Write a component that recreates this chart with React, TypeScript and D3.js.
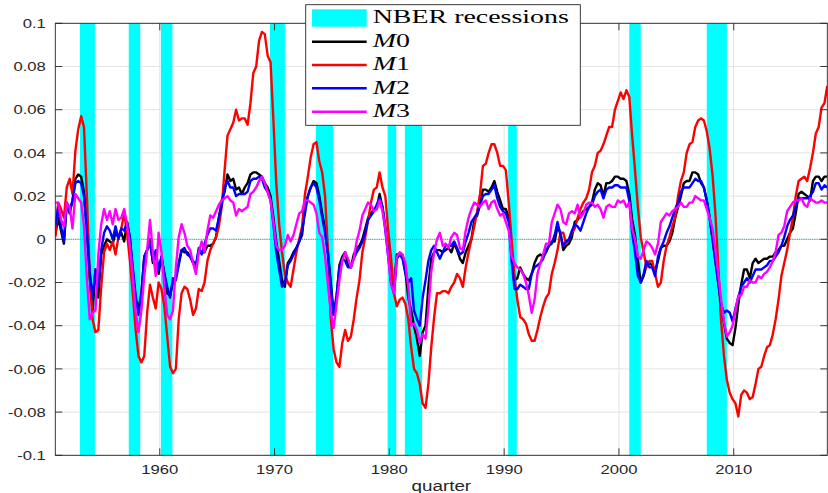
import React, { useEffect, useRef } from 'react';
import * as d3 from 'd3';

// first quarter shown on the axis (decimal year), data are quarterly
const START = 1950.9;

const m0 = [
  0.002, 0.010, 0.004, -0.002, 0.017, 0.012, 0.018, 0.028, 0.030, 0.029, 0.022, 0.005, -0.018, -0.033, -0.014, -0.027,
  -0.007, -0.003, 0.000, -0.001, -0.002, 0.003, 0.001, 0.003, -0.001, 0.008, 0.001, -0.015, -0.028, -0.032, -0.025, -0.008,
  -0.005, 0.000, -0.011, -0.007, -0.016, -0.008, -0.016, -0.025, -0.026, -0.020, -0.017, -0.011, -0.005, -0.006, -0.006, -0.008,
  -0.011, -0.013, -0.005, -0.006, -0.006, -0.003, -0.003, -0.002, 0.001, 0.010, 0.018, 0.022, 0.030, 0.027, 0.028, 0.023,
  0.024, 0.021, 0.024, 0.026, 0.030, 0.031, 0.031, 0.030, 0.029, 0.026, 0.024, 0.020, 0.010, -0.001, -0.010, -0.019,
  -0.022, -0.011, -0.009, -0.006, -0.004, -0.001, 0.002, 0.015, 0.020, 0.024, 0.027, 0.026, 0.020, 0.012, 0.005,
  -0.006, -0.020, -0.035, -0.027, -0.012, -0.008, -0.006, -0.012, -0.013, -0.007, -0.004, -0.003, 0.000, 0.005, 0.010, 0.012,
  0.014, 0.014, 0.021, 0.015, 0.006, -0.005, -0.016, -0.022, -0.007, -0.007, -0.008, -0.015, -0.027, -0.033, -0.040, -0.046,
  -0.054, -0.043, -0.040, -0.022, -0.009, -0.006, -0.005, -0.005, -0.006, -0.005, -0.004,
  -0.006, -0.002, -0.005, -0.009, -0.011, -0.006, -0.003, 0.000, 0.009, 0.011, 0.016, 0.023, 0.023, 0.022, 0.024, 0.027,
  0.022, 0.018, 0.014, 0.014, 0.010, -0.005, -0.019, -0.018, -0.013, -0.016, -0.018, -0.019, -0.016, -0.011, -0.008, -0.007,
  -0.008, -0.006, -0.003, -0.001, -0.001, 0.006, 0.003, -0.005, -0.003, -0.002, 0.001, 0.008, 0.009, 0.011, 0.013, 0.014, 0.015,
  0.017, 0.023, 0.026, 0.025, 0.020, 0.026, 0.026, 0.027, 0.029, 0.029, 0.028, 0.028, 0.027, 0.021, 0.009, 0.002,
  -0.010, -0.020, -0.017, -0.012, -0.011, -0.012, -0.015, -0.010, -0.004, -0.003, -0.003, -0.001, 0.003, 0.010, 0.015, 0.020,
  0.026, 0.027, 0.027,
  0.031, 0.031, 0.030, 0.026, 0.024, 0.018, 0.010, 0.000, -0.010, -0.020, -0.030, -0.039, -0.046, -0.048, -0.049, -0.041,
  -0.030, -0.021, -0.014, -0.014, -0.018, -0.011, -0.009, -0.011, -0.010, -0.009, -0.009, -0.008, -0.008, -0.006, -0.005, -0.003,
  -0.003, 0.000, 0.003, 0.005, 0.012, 0.021, 0.022, 0.021, 0.020, 0.018, 0.027, 0.029, 0.029, 0.027, 0.029, 0.029,
];

const m1 = [
  0.001, 0.017, 0.014, 0.010, 0.024, 0.028, 0.021, 0.041, 0.051, 0.057, 0.052, 0.020, -0.016, -0.037, -0.043, -0.042,
  -0.022, -0.006, -0.002, -0.005, -0.001, -0.007, 0.001, 0.005, 0.012, 0.003, -0.010, -0.025, -0.042, -0.054, -0.057, -0.054,
  -0.034, -0.021, -0.027, -0.032, -0.020, -0.023, -0.031, -0.045, -0.059, -0.062, -0.060, -0.037, -0.025, -0.022, -0.023, -0.028,
  -0.035, -0.032, -0.023, -0.024, -0.020, -0.010, -0.005, -0.002, 0.001, 0.006, 0.015, 0.032, 0.048, 0.051, 0.054, 0.060,
  0.055, 0.056, 0.056, 0.053, 0.063, 0.077, 0.080, 0.092, 0.096, 0.095, 0.085, 0.082, 0.055, 0.026, 0.007, -0.006,
  -0.016, -0.020, -0.022, -0.014, -0.006, 0.000, 0.006, 0.021, 0.029, 0.038, 0.044, 0.045, 0.036, 0.031, 0.020,
  -0.005, -0.037, -0.051, -0.057, -0.059, -0.048, -0.042, -0.047, -0.045, -0.037, -0.027, -0.019, -0.006, 0.001, 0.009, 0.017,
  0.023, 0.024, 0.031, 0.024, 0.020, 0.004, -0.009, -0.025, -0.031, -0.028, -0.027, -0.030, -0.037, -0.050, -0.060, -0.062,
  -0.067, -0.076, -0.078, -0.067, -0.050, -0.036, -0.025, -0.025, -0.024, -0.024, -0.025,
  -0.022, -0.020, -0.016, -0.018, -0.022, -0.013, -0.006, 0.000, 0.006, 0.013, 0.021, 0.034, 0.035, 0.040, 0.044, 0.044,
  0.040, 0.034, 0.034, 0.032, 0.017, 0.000, -0.017, -0.028, -0.036, -0.037, -0.039, -0.044, -0.047, -0.047, -0.042, -0.036,
  -0.031, -0.027, -0.025, -0.016, -0.011, -0.005, 0.003, 0.003, -0.002, 0.000, 0.003, 0.005, 0.010, 0.014, 0.017, 0.019, 0.023,
  0.031, 0.034, 0.040, 0.041, 0.044, 0.048, 0.052, 0.052, 0.060, 0.064, 0.068, 0.065, 0.069, 0.066, 0.048, 0.032,
  0.015, 0.001, -0.006, -0.013, -0.010, -0.010, -0.016, -0.022, -0.020, -0.010, -0.003, 0.001, 0.006, 0.010, 0.020, 0.027,
  0.031, 0.040, 0.044,
  0.045, 0.052, 0.055, 0.056, 0.055, 0.050, 0.042, 0.030, 0.012, -0.012, -0.038, -0.054, -0.065, -0.071, -0.074, -0.076,
  -0.082, -0.072, -0.070, -0.071, -0.074, -0.073, -0.067, -0.060, -0.059, -0.054, -0.050, -0.049, -0.044, -0.037, -0.028, -0.017,
  -0.011, -0.005, 0.003, 0.010, 0.020, 0.027, 0.028, 0.029, 0.027, 0.033, 0.040, 0.049, 0.052, 0.061, 0.063, 0.071,
];

const m2 = [
  0.006, 0.015, 0.006, -0.001, 0.017, 0.013, 0.018, 0.026, 0.027, 0.026, 0.020, 0.004, -0.015, -0.027, -0.014, -0.022,
  -0.005, 0.003, 0.006, 0.004, 0.000, 0.006, 0.000, 0.005, 0.004, 0.008, 0.000, -0.013, -0.026, -0.035, -0.025, -0.008,
  -0.005, -0.002, -0.010, -0.005, -0.014, -0.008, -0.016, -0.022, -0.027, -0.018, -0.019, -0.012, -0.005, -0.004, -0.007, -0.008,
  -0.010, -0.012, -0.004, -0.007, -0.002, 0.002, 0.005, 0.005, 0.004, 0.010, 0.016, 0.024, 0.027, 0.024, 0.024, 0.020,
  0.021, 0.021, 0.021, 0.022, 0.027, 0.028, 0.028, 0.029, 0.028, 0.024, 0.022, 0.018, 0.007, -0.006, -0.014, -0.022,
  -0.020, -0.012, -0.010, -0.007, -0.004, -0.001, 0.004, 0.012, 0.020, 0.024, 0.026, 0.024, 0.018, 0.010, 0.003,
  -0.007, -0.022, -0.035, -0.026, -0.013, -0.009, -0.010, -0.013, -0.013, -0.009, -0.006, -0.004, -0.001, 0.003, 0.009, 0.011,
  0.013, 0.016, 0.019, 0.015, 0.004, -0.008, -0.020, -0.025, -0.009, -0.007, -0.009, -0.016, -0.020, -0.018, -0.033, -0.037,
  -0.040, -0.027, -0.019, -0.010, -0.005, -0.003, -0.006, -0.009, -0.006, -0.003, -0.003,
  -0.003, -0.001, -0.004, -0.007, -0.006, -0.001, 0.003, 0.008, 0.010, 0.012, 0.016, 0.020, 0.021, 0.021, 0.023, 0.025,
  0.019, 0.015, 0.013, 0.012, 0.008, -0.010, -0.023, -0.023, -0.021, -0.022, -0.023, -0.023, -0.016, -0.013, -0.012, -0.011,
  -0.009, -0.005, -0.003, -0.002, 0.002, 0.008, 0.002, -0.003, -0.001, 0.000, 0.004, 0.007, 0.006, 0.004, 0.008, 0.012, 0.015,
  0.016, 0.020, 0.022, 0.023, 0.019, 0.023, 0.024, 0.024, 0.025, 0.025, 0.024, 0.024, 0.024, 0.018, 0.003, -0.006,
  -0.017, -0.020, -0.016, -0.010, -0.013, -0.013, -0.017, -0.008, -0.004, -0.001, 0.003, 0.006, 0.010, 0.014, 0.017, 0.022,
  0.024, 0.024, 0.024,
  0.026, 0.028, 0.027, 0.027, 0.024, 0.018, 0.010, 0.001, -0.010, -0.020, -0.030, -0.034, -0.033, -0.034, -0.038, -0.032,
  -0.027, -0.022, -0.020, -0.018, -0.020, -0.017, -0.014, -0.014, -0.014, -0.013, -0.012, -0.010, -0.010, -0.008, -0.006, -0.003,
  0.001, 0.006, 0.009, 0.011, 0.015, 0.019, 0.019, 0.019, 0.019, 0.020, 0.022, 0.026, 0.026, 0.023, 0.025, 0.024,
];

const m3 = [
  0.017, 0.017, 0.009, 0.006, 0.017, 0.015, 0.005, 0.021, 0.019, 0.017, 0.006, -0.018, -0.037, -0.034, -0.033, -0.007,
  0.007, 0.014, 0.009, 0.013, 0.007, 0.014, 0.009, 0.010, 0.014, 0.007, -0.003, -0.017, -0.034, -0.043, -0.033, -0.017,
  -0.005, 0.009, -0.006, -0.017, 0.003, -0.006, -0.022, -0.035, -0.037, -0.033, -0.013, 0.001, 0.007, 0.003, -0.003, -0.005,
  -0.011, -0.016, -0.006, -0.001, -0.006, 0.004, 0.011, 0.010, 0.013, 0.016, 0.018, 0.019, 0.020, 0.018, 0.017, 0.011,
  0.014, 0.013, 0.014, 0.015, 0.021, 0.022, 0.024, 0.027, 0.029, 0.026, 0.022, 0.018, 0.008, -0.003, -0.005, -0.005,
  -0.003, 0.002, -0.001, 0.002, 0.007, 0.012, 0.013, 0.018, 0.018, 0.017, 0.016, 0.012, 0.003, 0.001, -0.008,
  -0.021, -0.034, -0.041, -0.030, -0.019, -0.010, -0.006, -0.009, -0.013, -0.009, -0.001, 0.004, 0.011, 0.014, 0.017, 0.016,
  0.013, 0.014, 0.018, 0.013, 0.005, -0.008, -0.021, -0.025, -0.008, -0.006, -0.007, -0.011, -0.022, -0.040, -0.039, -0.042,
  -0.048, -0.044, -0.046, -0.032, -0.015, -0.006, 0.000, 0.003, -0.003, -0.002, -0.004,
  0.001, 0.003, 0.002, -0.004, -0.005, 0.004, 0.010, 0.014, 0.017, 0.016, 0.015, 0.017, 0.018, 0.014, 0.017, 0.018,
  0.014, 0.011, 0.012, 0.008, 0.004, -0.008, -0.011, -0.013, -0.014, -0.016, -0.020, -0.026, -0.034, -0.028, -0.016, -0.011,
  -0.007, -0.002, -0.002, 0.008, 0.012, 0.016, 0.014, 0.008, 0.007, 0.012, 0.013, 0.012, 0.016, 0.010, 0.012, 0.016, 0.017,
  0.017, 0.015, 0.016, 0.014, 0.010, 0.015, 0.016, 0.015, 0.015, 0.018, 0.017, 0.018, 0.015, 0.017, 0.005, 0.000,
  -0.008, -0.009, -0.005, -0.001, -0.002, -0.004, -0.007, -0.002, 0.008, 0.010, 0.012, 0.011, 0.013, 0.014, 0.015, 0.017,
  0.015, 0.015, 0.017,
  0.017, 0.020, 0.019, 0.018, 0.018, 0.014, 0.010, 0.005, -0.005, -0.016, -0.028, -0.038, -0.045, -0.043, -0.040, -0.033,
  -0.026, -0.026, -0.022, -0.022, -0.019, -0.020, -0.020, -0.017, -0.018, -0.016, -0.015, -0.013, -0.010, -0.006, 0.002, 0.003,
  0.006, 0.013, 0.015, 0.017, 0.018, 0.018, 0.019, 0.016, 0.015, 0.019, 0.018, 0.017, 0.017, 0.018, 0.017, 0.017,
];

// NBER recession spans as drawn (decimal years)
const recessions: [number, number][] = [
  [1953.05, 1954.35], [1957.3, 1958.3], [1960.1, 1961.1], [1969.6, 1970.9], [1973.6, 1975.1],
  [1979.85, 1980.6], [1981.35, 1982.85], [1990.35, 1991.1], [2000.9, 2001.9], [2007.65, 2009.4],
];

const xTicks = [1960, 1970, 1980, 1990, 2000, 2010];
const yTicks = [-0.1, -0.08, -0.06, -0.04, -0.02, 0, 0.02, 0.04, 0.06, 0.08, 0.1];
const seriesNames = ['0', '1', '2', '3']; // digits after the italic M
const seriesColors = ['#000000', '#ff0000', '#0000ff', '#ff00ff'];

const App: React.FC = () => {
  const svgRef = useRef<SVGSVGElement>(null);

  useEffect(() => {
    if (!svgRef.current) return;
    const width = 828;
    const height = 493;
    const left = 55.3, right = 827.3, top = 23.3, bottom = 455.3;
    const axisColor = '#262626';
    const sans = '"Liberation Sans", Arial, sans-serif';
    const serif = '"Liberation Serif", "Times New Roman", serif';

    const svg = d3.select(svgRef.current);
    svg.selectAll('*').remove();
    svg.attr('width', width).attr('height', height);

    const allSeries = [m0, m1, m2, m3];
    const n = d3.max(allSeries, s => s.length) as number;
    const x = d3.scaleLinear().domain([START, START + (n - 1) / 4]).range([left, right]);
    const y = d3.scaleLinear().domain([-0.1, 0.1]).range([bottom, top]);

    svg.append('defs').append('clipPath').attr('id', 'plot-clip')
      .append('rect').attr('x', left).attr('y', top).attr('width', right - left).attr('height', bottom - top);

    // Grid
    const grid = svg.append('g').attr('stroke', '#e3e3e3').attr('stroke-width', 1);
    yTicks.forEach(v => {
      grid.append('line').attr('x1', left).attr('x2', right).attr('y1', y(v)).attr('y2', y(v));
    });
    xTicks.forEach(v => {
      grid.append('line').attr('x1', x(v)).attr('x2', x(v)).attr('y1', top).attr('y2', bottom);
    });

    // Recession shading
    svg.append('g').selectAll('rect').data(recessions).join('rect')
      .attr('x', d => x(d[0]))
      .attr('width', d => x(d[1]) - x(d[0]))
      .attr('y', top)
      .attr('height', bottom - top)
      .attr('fill', '#00ffff');

    // Zero line
    svg.append('line')
      .attr('x1', left).attr('x2', right).attr('y1', y(0)).attr('y2', y(0))
      .attr('stroke', '#1aa6b8').attr('stroke-width', 1).attr('stroke-dasharray', '1.2,1');

    // Series
    const line = d3.line<number>()
      .x((_, i) => x(START + i / 4))
      .y(d => y(d));
    const lines = svg.append('g').attr('clip-path', 'url(#plot-clip)');
    allSeries.forEach((s, i) => {
      lines.append('path')
        .attr('d', line(s) || '')
        .attr('fill', 'none')
        .attr('stroke', seriesColors[i])
        .attr('stroke-width', 2.4)
        .attr('stroke-linejoin', 'round');
    });

    // Axes box and ticks
    const ax = svg.append('g').attr('stroke', axisColor).attr('stroke-width', 0.9).attr('fill', 'none');
    ax.append('rect').attr('x', left).attr('y', top).attr('width', right - left).attr('height', bottom - top);
    const tl = 7;
    yTicks.forEach(v => {
      ax.append('line').attr('x1', left).attr('x2', left + tl).attr('y1', y(v)).attr('y2', y(v));
      ax.append('line').attr('x1', right).attr('x2', right - tl).attr('y1', y(v)).attr('y2', y(v));
    });
    xTicks.forEach(v => {
      ax.append('line').attr('x1', x(v)).attr('x2', x(v)).attr('y1', bottom).attr('y2', bottom - tl);
      ax.append('line').attr('x1', x(v)).attr('x2', x(v)).attr('y1', top).attr('y2', top + tl);
    });

    // Tick labels (horizontally stretched like the source rendering)
    const fmt = (v: number) => String(+v.toFixed(2));
    yTicks.forEach(v => {
      svg.append('text')
        .attr('transform', `translate(45.8,${y(v) + 4.6}) scale(1.28,1)`)
        .attr('text-anchor', 'end')
        .attr('font-family', sans).attr('font-size', 13).attr('fill', axisColor)
        .text(fmt(v));
    });
    xTicks.forEach(v => {
      svg.append('text')
        .attr('transform', `translate(${x(v)},474.3) scale(1.28,1)`)
        .attr('text-anchor', 'middle')
        .attr('font-family', sans).attr('font-size', 13).attr('fill', axisColor)
        .text(String(v));
    });
    svg.append('text')
      .attr('transform', `translate(${(left + right) / 2},491) scale(1.3,1)`)
      .attr('text-anchor', 'middle')
      .attr('font-family', sans).attr('font-size', 14.5).attr('fill', axisColor)
      .text('quarter');

    // Legend
    const lg = svg.append('g');
    lg.append('rect')
      .attr('x', 305.7).attr('y', 4.7).attr('width', 274.6).attr('height', 120.6)
      .attr('fill', '#ffffff').attr('stroke', axisColor).attr('stroke-width', 0.9);
    lg.append('rect')
      .attr('x', 312).attr('y', 9.3).attr('width', 54.7).attr('height', 17.4)
      .attr('fill', '#00ffff');
    lg.append('text')
      .attr('transform', 'translate(372.7,22.7) scale(1.47,1)')
      .attr('font-family', serif).attr('font-size', 19).attr('fill', '#000')
      .text('NBER recessions');
    const rowY = [41.7, 65, 88.3, 111.7];
    seriesNames.forEach((name, i) => {
      lg.append('line')
        .attr('x1', 312).attr('x2', 366.7).attr('y1', rowY[i]).attr('y2', rowY[i])
        .attr('stroke', seriesColors[i]).attr('stroke-width', 2.4);
      const t = lg.append('text')
        .attr('transform', `translate(372.7,${rowY[i] + 5.3}) scale(1.47,1)`)
        .attr('font-family', serif).attr('font-size', 19).attr('fill', '#000');
      t.append('tspan').attr('font-style', 'italic').text('M');
      t.append('tspan').text(name);
    });
  }, []);

  return (
    <svg
      ref={svgRef}
      style={{ position: 'absolute', left: 0, top: 0, display: 'block', background: '#ffffff' }}
    />
  );
};

export default App;
